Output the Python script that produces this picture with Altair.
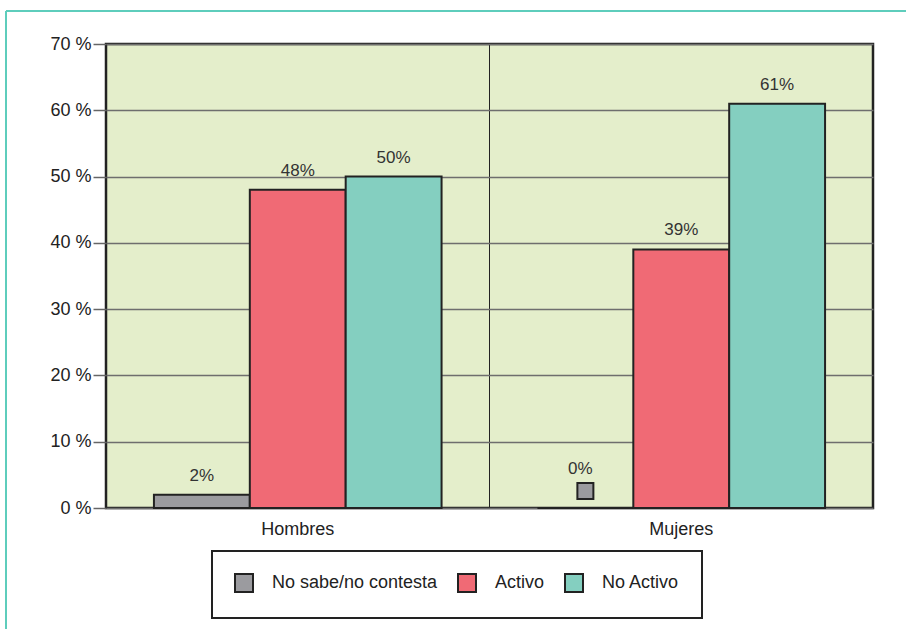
import altair as alt
import pandas as pd

grupos = ["Hombres", "Mujeres"]
series = ["No sabe/no contesta", "Activo", "No Activo"]
hombres = [2, 48, 50]
mujeres = [0, 39, 61]
colores = ["#9B9B9F", "#F06A75", "#84CFC0"]
y_ticks = [0, 10, 20, 30, 40, 50, 60, 70]

rows = []
for g, vals in zip(grupos, [hombres, mujeres]):
    for s, v in zip(series, vals):
        rows.append({"grupo": g, "serie": s, "valor": v, "etiqueta": f"{v}%"})
df = pd.DataFrame(rows)

FONT = "Liberation Sans"

x_enc = alt.X("grupo:N", sort=grupos,
              scale=alt.Scale(paddingInner=0, paddingOuter=0),
              axis=alt.Axis(title=None, ticks=False, domain=False, labelAngle=0,
                            labelFontSize=18, labelFont=FONT, labelColor="#222",
                            labelPadding=12, grid=True, bandPosition=0,
                            gridColor="#222", gridWidth=1))
xo_enc = alt.XOffset("serie:N", sort=series,
                     scale=alt.Scale(paddingInner=0, paddingOuter=0.5))
y_scale = alt.Scale(domain=[0, 70], nice=False)

base = alt.Chart(df).encode(x=x_enc, xOffset=xo_enc)

bars = base.mark_bar(stroke="#222", strokeWidth=2).encode(
    y=alt.Y("valor:Q", scale=y_scale,
            axis=alt.Axis(title=None, values=y_ticks, labelExpr="datum.value + ' %'",
                          labelFontSize=18, labelFont=FONT, labelColor="#222",
                          tickSize=13, tickColor="#666", tickWidth=1.5, labelPadding=2,
                          domain=False, grid=True, gridColor="#6E6E6E", gridWidth=1.3)),
    fill=alt.Fill("serie:N", sort=series,
                  scale=alt.Scale(domain=series, range=colores),
                  legend=alt.Legend(title=None, orient="none", direction="horizontal",
                                    legendX=106, legendY=507, padding=22,
                                    strokeColor="#222",
                                    symbolType="square", symbolSize=324,
                                    symbolStrokeColor="#222", symbolStrokeWidth=2,
                                    symbolOpacity=1, labelLimit=400,
                                    labelFont=FONT, labelFontSize=18, labelColor="#222",
                                    labelOffset=18, columnPadding=16)),
)

labels = base.transform_filter("datum.valor > 0").mark_text(
    baseline="bottom", dy=-10, font=FONT, fontSize=17, color="#333"
).encode(y=alt.Y("valor:Q", scale=y_scale), text="etiqueta:N")

zero_mark = base.transform_filter("datum.valor == 0").mark_square(
    size=256, yOffset=-17, xOffset=-5, stroke="#222", strokeWidth=2, opacity=1
).encode(y=alt.Y("valor:Q", scale=y_scale),
         fill=alt.Fill("serie:N", sort=series, scale=alt.Scale(domain=series, range=colores), legend=None))

zero_label = base.transform_filter("datum.valor == 0").mark_text(
    baseline="bottom", dy=-30, dx=-5, font=FONT, fontSize=17, color="#333"
).encode(y=alt.Y("valor:Q", scale=y_scale), text="etiqueta:N")

frame_top = alt.Chart(pd.DataFrame({"a": [0]})).mark_rule(color="#5ECDBC", strokeWidth=2).encode(
    x=alt.value(-100), x2=alt.value(820), y=alt.value(-33))
frame_left = alt.Chart(pd.DataFrame({"a": [0]})).mark_rule(color="#5ECDBC", strokeWidth=2).encode(
    x=alt.value(-100), y=alt.value(-33), y2=alt.value(600))

chart = alt.layer(bars, labels, zero_mark, zero_label, frame_top, frame_left).resolve_scale(
    fill="shared"
).properties(
    width=767, height=464,
    autosize=alt.AutoSizeParams(type="none"),
    padding={"left": 106, "top": 44, "right": 33, "bottom": 121},
    background="white",
).configure_view(
    fill="#E4EECB", stroke="#222", strokeWidth=2.5
).configure_legend(strokeWidth=2)

chart.save("out.html", embed_options={"renderer": "svg", "actions": False})
